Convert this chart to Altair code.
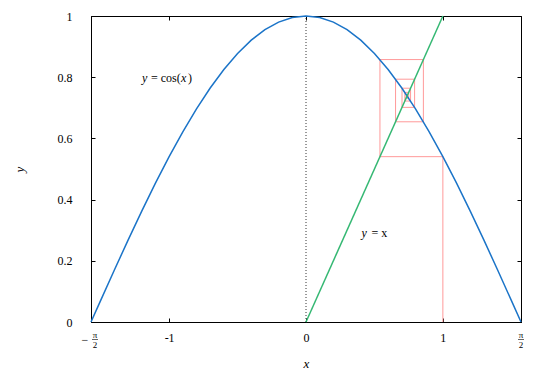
import altair as alt
import pandas as pd

HALF_PI = 1.5708

# cos curve points
cos_x = [-1.5708, -1.5, -1.4, -1.3, -1.2, -1.1, -1.0, -0.9, -0.8, -0.7, -0.6, -0.5, -0.4, -0.3, -0.2, -0.1,
         0.0, 0.1, 0.2, 0.3, 0.4, 0.5, 0.6, 0.7, 0.8, 0.9, 1.0, 1.1, 1.2, 1.3, 1.4, 1.5, 1.5708]
cos_y = [0.0, 0.0707, 0.1700, 0.2675, 0.3624, 0.4536, 0.5403, 0.6216, 0.6967, 0.7648, 0.8253, 0.8776, 0.9211,
         0.9553, 0.9801, 0.9950, 1.0, 0.9950, 0.9801, 0.9553, 0.9211, 0.8776, 0.8253, 0.7648, 0.6967, 0.6216,
         0.5403, 0.4536, 0.3624, 0.2675, 0.1700, 0.0707, 0.0]

# y = x line
id_x = [0.0, 1.0]
id_y = [0.0, 1.0]

# cobweb iteration path
web_x = [1.0, 1.0, 0.5403, 0.5403, 0.8576, 0.8576, 0.6543, 0.6543, 0.7935, 0.7935, 0.7014, 0.7014,
         0.7640, 0.7640, 0.7221, 0.7221, 0.7504, 0.7504, 0.7314, 0.7314, 0.7442]
web_y = [0.0, 0.5403, 0.5403, 0.8576, 0.8576, 0.6543, 0.6543, 0.7935, 0.7935, 0.7014, 0.7014, 0.7640,
         0.7640, 0.7221, 0.7221, 0.7504, 0.7504, 0.7314, 0.7314, 0.7442, 0.7442]

# dotted vertical at x = 0
vl_x = [0.0, 0.0]
vl_y = [0.0, 1.0]

x_ticks = [-HALF_PI, -1, 0, 1, HALF_PI]
x_num_ticks = [-1, 0, 1]
y_ticks = [0, 0.2, 0.4, 0.6, 0.8, 1.0]

# fraction tick labels at ±π/2
pi_tick_vals = [-HALF_PI, HALF_PI]
pi_frac_dx = [4, 0]

# annotation pieces
ann1_parts = ["y", "= cos(", "x", ")"]
ann1_style = ["italic", "normal", "italic", "normal"]
ann1_dx = [0, 9, 39, 46]
ann1_x = -1.198
ann1_y = 0.797

ann2_parts = ["y", "= x"]
ann2_style = ["italic", "normal"]
ann2_dx = [0, 10]
ann2_x = 0.405
ann2_y = 0.292

W, H = 430, 306
FONT = "'Liberation Serif', 'DejaVu Serif', serif"

cos_df = pd.DataFrame({"x": cos_x, "y": cos_y, "o": range(len(cos_x))})
id_df = pd.DataFrame({"x": id_x, "y": id_y, "o": range(len(id_x))})
web_df = pd.DataFrame({"x": web_x, "y": web_y, "o": range(len(web_x))})
vl_df = pd.DataFrame({"x": vl_x, "y": vl_y, "o": range(len(vl_x))})

xs = alt.Scale(domain=[-HALF_PI, HALF_PI], nice=False, zero=False)
ys = alt.Scale(domain=[0, 1], nice=False, zero=False)

x_main = alt.Axis(orient="bottom", values=x_num_ticks, labelExpr="'' + datum.value", ticks=False,
                  domain=True, domainColor="black", domainWidth=1, grid=False,
                  labelPadding=10, title="x", titlePadding=14, labelFont=FONT, labelFontSize=12,
                  titleFont=FONT, titleFontSize=13, titleFontStyle="italic", titleFontWeight="normal",
                  labelColor="black", titleColor="black")
y_main = alt.Axis(orient="left", values=y_ticks, labelExpr="'' + datum.value", ticks=False,
                  domain=True, domainColor="black", domainWidth=1, grid=False,
                  labelPadding=19, title="y", titlePadding=31, labelFont=FONT, labelFontSize=12,
                  titleFont=FONT, titleFontSize=13, titleFontStyle="italic", titleFontWeight="normal",
                  labelColor="black", titleColor="black")


def tick_axis(orient, values, offset):
    return alt.Axis(orient=orient, values=values, labels=False, title=None, domain=True, domainColor="black",
                    domainWidth=1, grid=False, ticks=True, tickSize=4, tickColor="black", tickWidth=1,
                    offset=offset)


cos_line = alt.Chart(cos_df).mark_line(color="#1b74c8", strokeWidth=1.5).encode(
    x=alt.X("x:Q", scale=xs, axis=x_main),
    y=alt.Y("y:Q", scale=ys, axis=y_main),
    order="o:Q",
)

id_line = alt.Chart(id_df).mark_line(color="#35b873", strokeWidth=1.5).encode(
    x=alt.X("x:Q", scale=xs, axis=tick_axis("top", x_ticks, -H)),
    y=alt.Y("y:Q", scale=ys, axis=tick_axis("left", y_ticks, -W)),
    order="o:Q",
)

web_line = alt.Chart(web_df).mark_line(color="#ff9a9a", strokeWidth=1).encode(
    x=alt.X("x:Q", scale=xs, axis=tick_axis("bottom", x_ticks, -H)),
    y=alt.Y("y:Q", scale=ys, axis=tick_axis("right", y_ticks, -W)),
    order="o:Q",
)

v_line = alt.Chart(vl_df).mark_line(color="black", strokeWidth=0.8, strokeDash=[1, 2]).encode(
    x=alt.X("x:Q", scale=xs, axis=None),
    y=alt.Y("y:Q", scale=ys, axis=None),
    order="o:Q",
)

# ±π/2 tick labels drawn as small stacked fractions
frac_layers = []
for val, fdx in zip(pi_tick_vals, pi_frac_dx):
    df = pd.DataFrame({"x": [val]})
    base = alt.Chart(df)
    enc_x = alt.X("x:Q", scale=xs, axis=None)
    frac_layers.append(base.mark_text(text="π", font=FONT, fontSize=9, color="black", baseline="middle",
                                      dx=fdx).encode(x=enc_x, y=alt.value(H + 13)))
    frac_layers.append(base.mark_text(text="2", font=FONT, fontSize=9, color="black", baseline="middle",
                                      dx=fdx).encode(x=enc_x, y=alt.value(H + 22.5)))
    frac_layers.append(base.mark_rule(color="black", strokeWidth=0.6, xOffset=fdx - 3,
                                      x2Offset=fdx + 3).encode(x=enc_x, x2="x:Q", y=alt.value(H + 17.5)))
    if val < 0:
        frac_layers.append(base.mark_text(text="−", font=FONT, fontSize=12, color="black",
                                          baseline="middle", dx=-6).encode(x=enc_x, y=alt.value(H + 17.5)))

texts = []
for parts, styles, dxs, ax, ay in [(ann1_parts, ann1_style, ann1_dx, ann1_x, ann1_y),
                                   (ann2_parts, ann2_style, ann2_dx, ann2_x, ann2_y)]:
    for p, s, d in zip(parts, styles, dxs):
        df = pd.DataFrame({"t": [p], "x": [ax], "y": [ay]})
        texts.append(alt.Chart(df).mark_text(font=FONT, fontSize=12, color="black", fontStyle=s,
                                             align="left", baseline="middle", dx=d).encode(
            x=alt.X("x:Q", scale=xs, axis=None),
            y=alt.Y("y:Q", scale=ys, axis=None),
            text="t:N",
        ))

chart = alt.layer(web_line, v_line, cos_line, id_line, *frac_layers, *texts).resolve_axis(
    x="independent", y="independent"
).properties(
    width=W, height=H,
    autosize=alt.AutoSizeParams(type="none"),
    padding={"left": 91, "top": 16, "right": 29, "bottom": 48},
).configure_view(stroke=None).configure(background="white")

chart.save("out.html", embed_options={"renderer": "svg", "actions": False})
